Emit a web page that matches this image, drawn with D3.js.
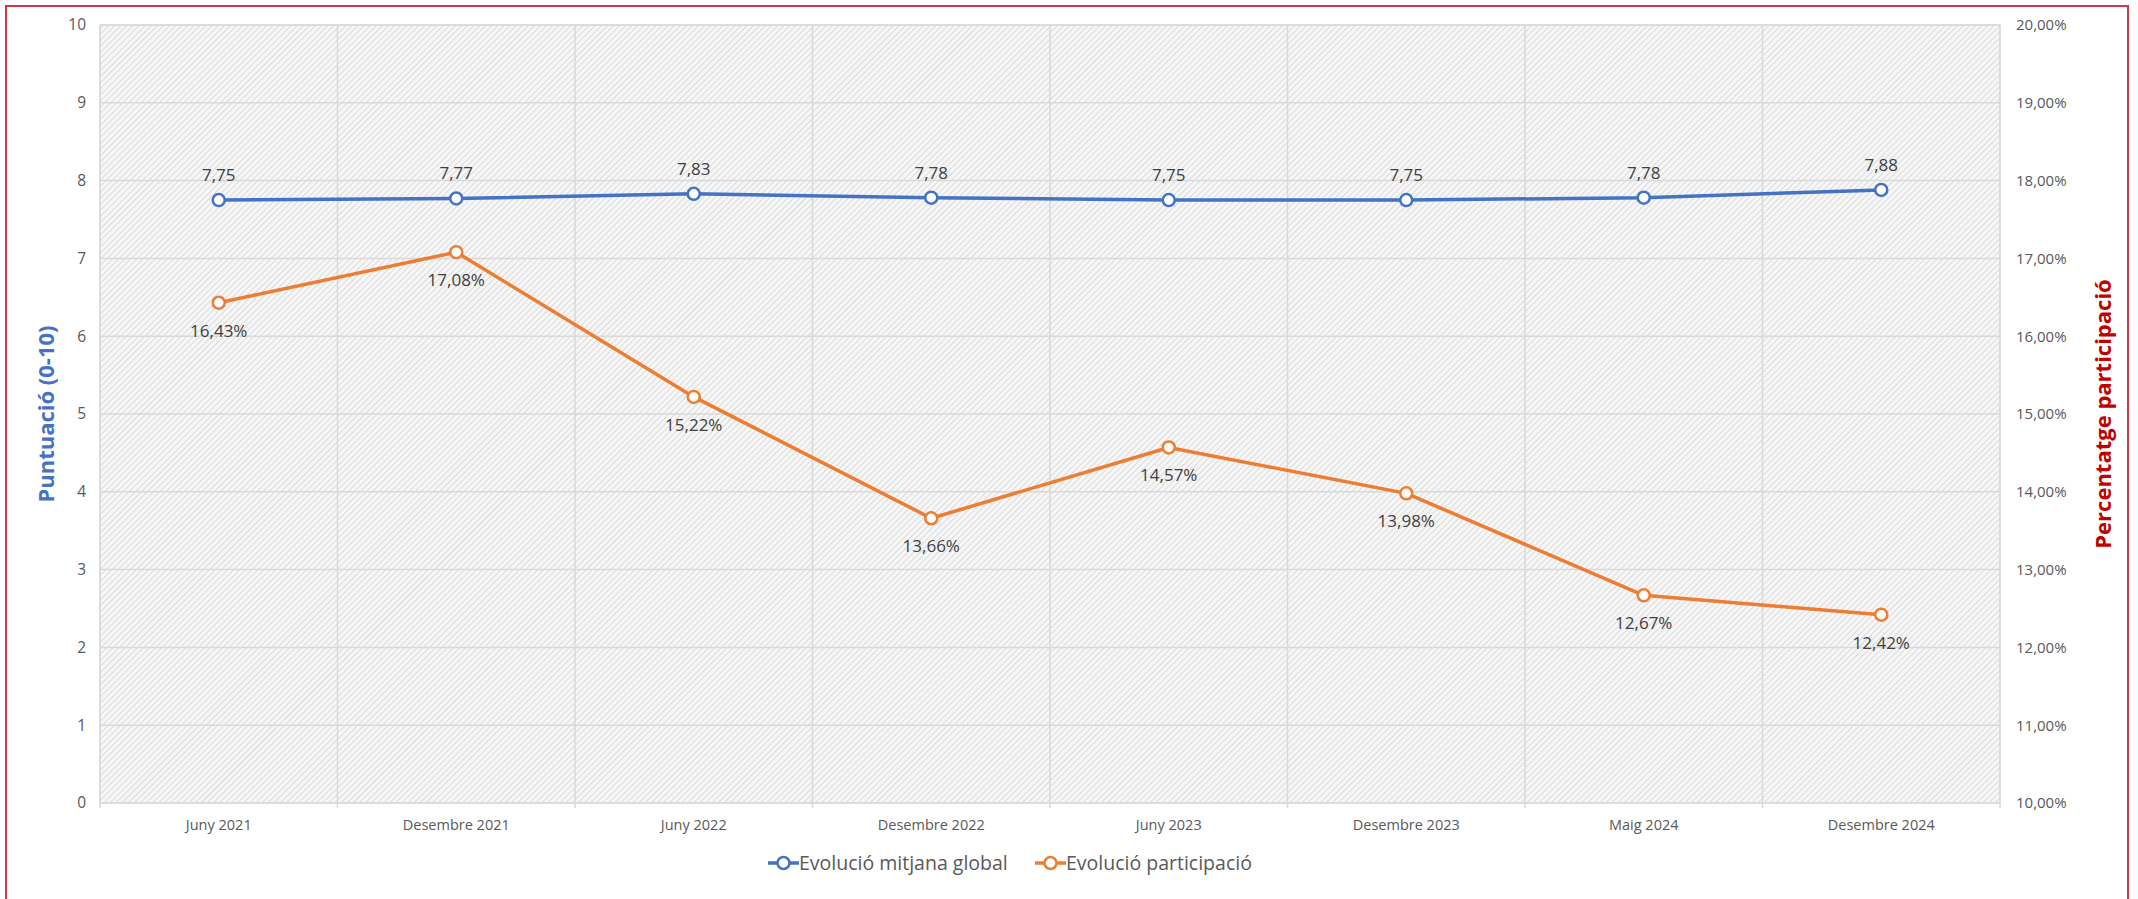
<!DOCTYPE html>
<html><head><meta charset="utf-8">
<script src="https://cdn.jsdelivr.net/npm/d3@7"></script>
<style>
body{margin:0;background:#fff;}
svg{display:block;font-family:"Open Sans",sans-serif;}
</style>
</head><body><svg id="c" width="2138" height="899"></svg>
<script>
const categories = ["Juny 2021","Desembre 2021","Juny 2022","Desembre 2022","Juny 2023","Desembre 2023","Maig 2024","Desembre 2024"];
const mitjanaGlobal = [7.75,7.77,7.83,7.78,7.75,7.75,7.78,7.88];
const participacio = [16.43,17.08,15.22,13.66,14.57,13.98,12.67,12.42];
const leftTicks = [0,1,2,3,4,5,6,7,8,9,10];
const rightTicks = [10,11,12,13,14,15,16,17,18,19,20];
const seriesNames = ["Evolució mitjana global","Evolució participació"];
const axisTitles = ["Puntuació (0-10)","Percentatge participació"];

const BLUE = "#4472C4", ORANGE = "#ED7D31";
const loc = d3.formatLocale({decimal:",", thousands:".", grouping:[3], currency:["","€"]});
const f2 = loc.format(".2f");

const svg = d3.select("#c");
const L = 100, R = 2000, T = 25, B = 803;

const defs = svg.append("defs");
const pat = defs.append("pattern").attr("id","hatch").attr("patternUnits","userSpaceOnUse")
  .attr("width",4.3).attr("height",4.3).attr("patternTransform","rotate(45)");
pat.append("rect").attr("width",4.3).attr("height",4.3).attr("fill","#f6f6f6");
pat.append("line").attr("x1",0).attr("y1",0).attr("x2",0).attr("y2",4.3)
  .attr("stroke","#d6d6d6").attr("stroke-width",1.6);

// outer frame
svg.append("rect").attr("x",6).attr("y",6).attr("width",2122).attr("height",920)
  .attr("fill","none").attr("stroke","#cc3b45").attr("stroke-width",2);

const x = d3.scaleBand().domain(categories).range([L,R]);
const yL = d3.scaleLinear().domain([0,10]).range([B,T]);
const yR = d3.scaleLinear().domain([10,20]).range([B,T]);

// plot background
svg.append("rect").attr("x",L).attr("y",T).attr("width",R-L).attr("height",B-T)
  .attr("fill","url(#hatch)").attr("stroke","#dcdcdc").attr("stroke-width",1.2);

// horizontal gridlines
svg.append("g").selectAll("line").data(leftTicks).join("line")
  .attr("x1",L).attr("x2",R).attr("y1",d=>yL(d)).attr("y2",d=>yL(d))
  .attr("stroke","#d9d9d9").attr("stroke-width",1.5);

// vertical gridlines at band boundaries
const bounds = categories.map(c=>x(c)).concat([R]);
svg.append("g").selectAll("line").data(bounds).join("line")
  .attr("x1",d=>d).attr("x2",d=>d).attr("y1",T).attr("y2",B+5)
  .attr("stroke","#d9d9d9").attr("stroke-width",1.5);

// left axis
const gL = svg.append("g").attr("transform",`translate(${L},0)`)
  .call(d3.axisLeft(yL).tickValues(leftTicks).tickSize(0).tickPadding(14).tickFormat(d=>d));
gL.select(".domain").remove();
gL.selectAll("text").attr("fill","#595959").attr("font-size",15.5).attr("font-family","Open Sans");

// right axis
const gR = svg.append("g").attr("transform",`translate(${R},0)`)
  .call(d3.axisRight(yR).tickValues(rightTicks).tickSize(0).tickPadding(16).tickFormat(d=>f2(d)+"%"));
gR.select(".domain").remove();
gR.selectAll("text").attr("fill","#595959").attr("font-size",15).attr("font-family","Open Sans");

// bottom axis
const gB = svg.append("g").attr("transform",`translate(0,${B})`)
  .call(d3.axisBottom(x).tickSize(0).tickPadding(17));
gB.select(".domain").remove();
gB.selectAll("text").attr("fill","#595959").attr("font-size",14.5).attr("font-family","Open Sans");

// axis titles
svg.append("text").attr("transform",`translate(54,${(T+B)/2}) rotate(-90)`)
  .attr("text-anchor","middle").attr("fill",BLUE).attr("font-weight","bold")
  .attr("font-size",22).text(axisTitles[0]);
svg.append("text").attr("transform",`translate(2111,${(T+B)/2}) rotate(-90)`)
  .attr("text-anchor","middle").attr("fill","#C00000").attr("font-weight","bold")
  .attr("font-size",22).text(axisTitles[1]);

// lines
const cx = (d,i)=>x(categories[i])+x.bandwidth()/2;
const lineL = d3.line().x((d,i)=>cx(d,i)).y(d=>yL(d));
const lineR = d3.line().x((d,i)=>cx(d,i)).y(d=>yR(d));

svg.append("path").attr("d",lineR(participacio)).attr("fill","none")
  .attr("stroke",ORANGE).attr("stroke-width",3.5).attr("stroke-linejoin","round");
svg.append("path").attr("d",lineL(mitjanaGlobal)).attr("fill","none")
  .attr("stroke",BLUE).attr("stroke-width",3.5).attr("stroke-linejoin","round");

svg.append("g").selectAll("circle").data(participacio).join("circle")
  .attr("cx",cx).attr("cy",d=>yR(d)).attr("r",6)
  .attr("fill","#fff").attr("stroke",ORANGE).attr("stroke-width",2.5);
svg.append("g").selectAll("circle").data(mitjanaGlobal).join("circle")
  .attr("cx",cx).attr("cy",d=>yL(d)).attr("r",6)
  .attr("fill","#fff").attr("stroke",BLUE).attr("stroke-width",2.5);

// data labels
svg.append("g").selectAll("text").data(mitjanaGlobal).join("text")
  .attr("x",cx).attr("y",d=>yL(d)-19).attr("text-anchor","middle")
  .attr("fill","#404040").attr("font-size",17).text(d=>f2(d));
svg.append("g").selectAll("text").data(participacio).join("text")
  .attr("x",cx).attr("y",d=>yR(d)+34).attr("text-anchor","middle")
  .attr("fill","#404040").attr("font-size",17).text(d=>f2(d)+"%");

// legend
const legend = [{name:seriesNames[0],color:BLUE,x:768},{name:seriesNames[1],color:ORANGE,x:1035}];
const lg = svg.append("g").selectAll("g").data(legend).join("g")
  .attr("transform",d=>`translate(${d.x},863)`);
lg.append("line").attr("x1",0).attr("x2",31).attr("y1",0).attr("y2",0)
  .attr("stroke",d=>d.color).attr("stroke-width",3.5);
lg.append("circle").attr("cx",15.5).attr("cy",0).attr("r",6)
  .attr("fill","#fff").attr("stroke",d=>d.color).attr("stroke-width",2.5);
lg.append("text").attr("x",31).attr("y",7).attr("fill","#595959")
  .attr("font-size",19.5).text(d=>d.name);
</script>
</body></html>
